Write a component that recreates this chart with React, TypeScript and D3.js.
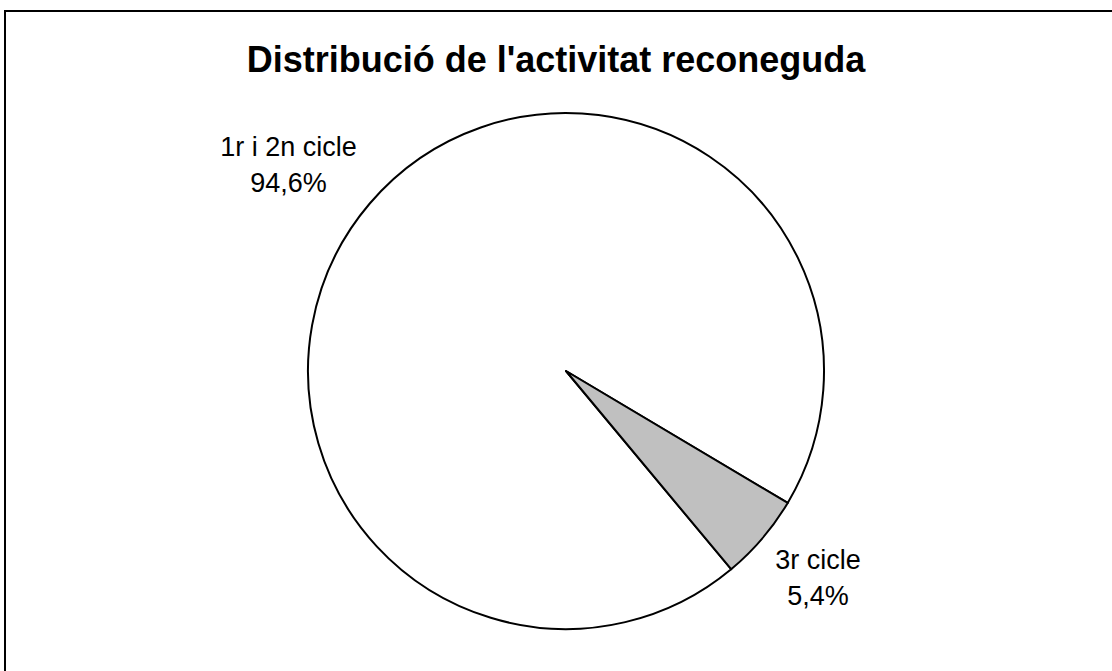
import React, { useEffect, useRef } from 'react';
import * as d3 from 'd3';

const title = "Distribució de l'activitat reconeguda";
const categories = ['1r i 2n cicle', '3r cicle'];
const shares = [94.6, 5.4];
const shareLabels = ['94,6%', '5,4%'];
const fills = ['#ffffff', '#c0c0c0'];

const W = 1112;
const H = 671;

const App = () => {
  const ref = useRef<SVGSVGElement | null>(null);

  useEffect(() => {
    if (!ref.current) return;
    const svg = d3.select(ref.current);
    svg.selectAll('*').remove();

    // outer frame (runs off the right and bottom edges)
    svg.append('rect')
      .attr('x', 5).attr('y', 11)
      .attr('width', W + 10).attr('height', H + 10)
      .attr('fill', '#fff').attr('stroke', '#000').attr('stroke-width', 2);

    svg.append('text')
      .attr('x', 556).attr('y', 72)
      .attr('text-anchor', 'middle')
      .attr('font-family', 'Liberation Sans, Arial, sans-serif')
      .attr('font-weight', 'bold')
      .attr('font-size', 36)
      .text(title);

    const cx = 566, cy = 371, R = 258;
    const data = categories.map((c, i) => ({ name: c, value: shares[i], label: shareLabels[i], fill: fills[i] }));

    const pie = d3.pie<any>()
      .sort(null)
      .value((d: any) => d.value)
      .startAngle((140.2 * Math.PI) / 180)
      .endAngle((140.2 * Math.PI) / 180 + 2 * Math.PI);

    const arc = d3.arc<any>().innerRadius(0).outerRadius(R);
    const arcs = pie(data);

    const g = svg.append('g').attr('transform', `translate(${cx},${cy})`);

    g.selectAll('path')
      .data(arcs)
      .enter()
      .append('path')
      .attr('d', arc as any)
      .attr('fill', (d: any) => d.data.fill)
      .attr('stroke', '#000')
      .attr('stroke-width', 2)
      .attr('stroke-linejoin', 'round');

    // labels: the box corner nearest the pie sits just outside the rim on the mid angle
    const fs = 27;
    const lineH = 36;
    const capH = 0.716 * fs;
    arcs.forEach((a: any) => {
      const mid = (a.startAngle + a.endAngle) / 2;
      const dx = Math.sin(mid), dy = -Math.cos(mid);
      const t = g.append('text')
        .attr('text-anchor', 'middle')
        .attr('font-family', 'Liberation Sans, Arial, sans-serif')
        .attr('font-size', fs);
      t.append('tspan').attr('x', 0).attr('y', 0).text(a.data.name);
      t.append('tspan').attr('x', 0).attr('y', lineH).text(a.data.label);
      const hw = (t.node() as SVGTextElement).getBBox().width / 2;
      const hh = (lineH + capH) / 2;
      const cornerX = dx * (R + 17), cornerY = dy * (R + 17);
      const bx = cornerX + Math.sign(dx) * hw;
      const by = cornerY + Math.sign(dy) * hh;
      // block center (bx, by); first baseline sits at center - hh + capH
      t.attr('transform', `translate(${bx},${by - hh + capH})`);
    });
  }, []);

  return (
    <svg ref={ref} width={W} height={H} style={{ position: 'fixed', left: 0, top: 0, background: '#fff' }} />
  );
};

export default App;
